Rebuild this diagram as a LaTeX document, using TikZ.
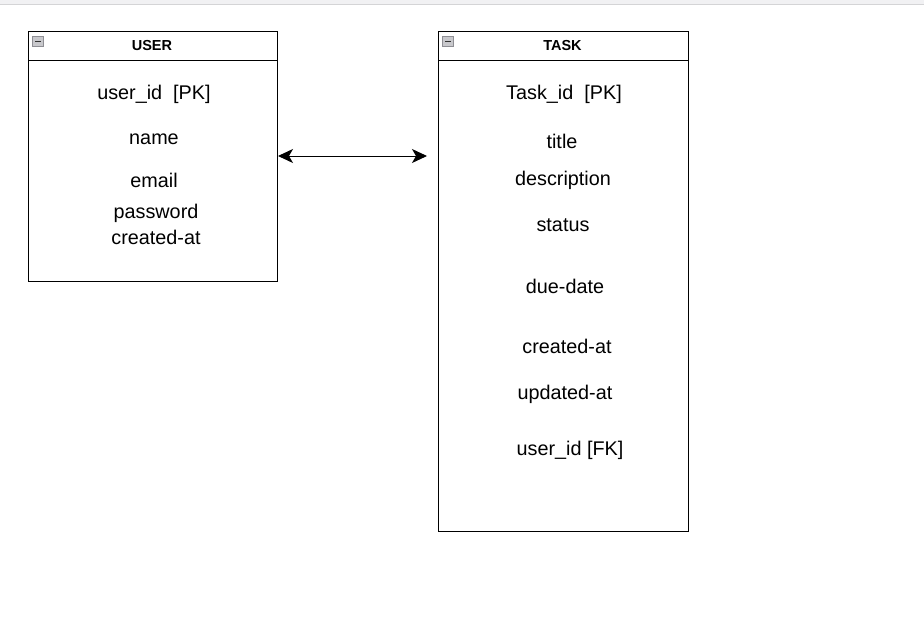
\documentclass[tikz,border=0pt]{standalone}
\usepackage{fontspec}
\setmainfont{Liberation Sans}
\usetikzlibrary{arrows.meta,calc}
\definecolor{bandgray}{HTML}{F1F1F3}
\definecolor{bandline}{HTML}{D4D4D6}
\definecolor{iconfill}{HTML}{C8C8CC}
\definecolor{iconedge}{HTML}{8E8E94}
\tikzset{
  entity/.style={draw=black, line width=1pt, fill=white, anchor=north west, inner sep=0pt},
  title/.style={font=\fontsize{14.5}{16}\selectfont\bfseries, inner sep=0pt},
  field/.style={font=\fontsize{19.8}{23}\selectfont, inner sep=0pt, yshift=-1pt},
  link/.style={line width=1pt, {Stealth[length=15pt,width=14pt,inset=4pt]}-{Stealth[length=15pt,width=14pt,inset=4pt]}},
}
\newcommand{\collapseicon}[1]{%
  \draw[iconedge, fill=iconfill, line width=0.6pt] ($(#1.north west)+(4.5,5)$) rectangle ++(10.5,10.5);
  \draw[black!80, line width=1.4pt] ($(#1.north west)+(7,10.25)$) -- ++(5.5,0);
}
\begin{document}
\begin{tikzpicture}[x=1pt, y=-1pt]
  \useasboundingbox (0,0) rectangle (924,632);
  \fill[white] (0,0) rectangle (924,632);
  % browser strip along the top
  \fill[bandgray] (0,0) rectangle (924,4);
  \draw[bandline, line width=1pt] (0,4.5) -- (924,4.5);

  % USER entity
  \node[entity, minimum width=249pt, minimum height=250pt] (user) at (28,31) {};
  \draw[line width=1pt] ($(user.north west)+(0,29)$) -- ($(user.north east)+(0,29)$);
  \collapseicon{user}
  \node[title] (usertitle) at (152,45.5) {USER};
  \node[field] (u1) at (154,93) {user\_id\ \ [PK]};
  \node[field] (u2) at (154,138) {name};
  \node[field] (u3) at (154,179) {email};
  \node[field] (u4) at (156,212) {password};
  \node[field] (u5) at (156,236.5) {created-at};

  % TASK entity
  \node[entity, minimum width=250pt, minimum height=500pt] (task) at (438,31) {};
  \draw[line width=1pt] ($(task.north west)+(0,29)$) -- ($(task.north east)+(0,29)$);
  \collapseicon{task}
  \node[title] (tasktitle) at (562.5,45.5) {TASK};
  \node[field] (t1) at (564,93) {Task\_id\ \ [PK]};
  \node[field] (t2) at (562,140) {title};
  \node[field] (t3) at (563,179) {description};
  \node[field] (t4) at (563,224) {status};
  \node[field] (t5) at (565,285) {due-date};
  \node[field] (t6) at (567,345) {created-at};
  \node[field] (t7) at (565,393) {updated-at};
  \node[field] (t8) at (570,449) {user\_id [FK]};

  % relationship between the two entities
  \coordinate (linkend) at (427,156);
  \draw[link] (user.east |- linkend) -- (linkend);
\end{tikzpicture}
\end{document}
